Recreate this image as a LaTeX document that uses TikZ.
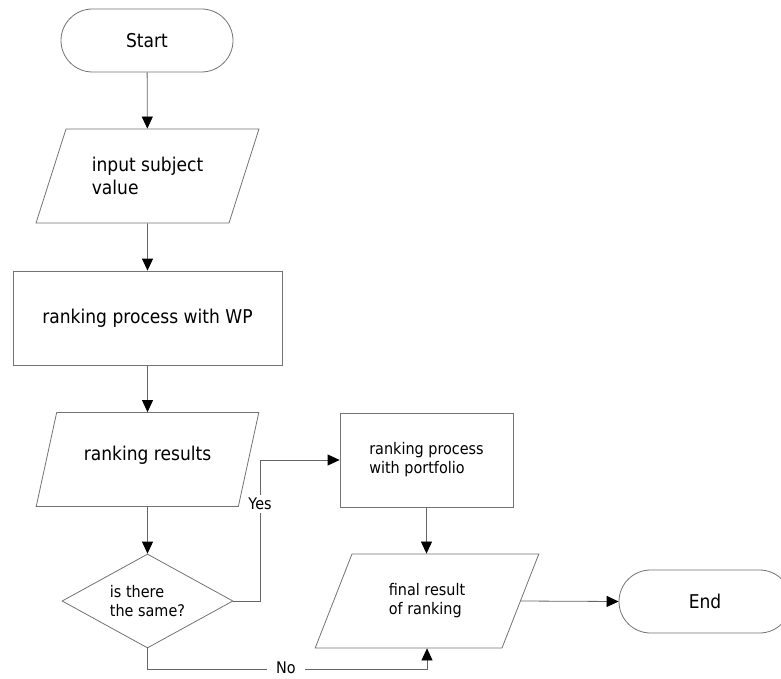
\documentclass[tikz,border=0pt]{standalone}
\usepackage{fontspec}
\setmainfont{DejaVu Sans}[FakeStretch=0.9]
\usetikzlibrary{shapes.geometric,shapes.misc,arrows.meta}
\newcommand\mybig{\fontsize{19}{23}\selectfont}
\newcommand\mysmall{\fontsize{16}{19}\selectfont}
\begin{document}
\begin{tikzpicture}[x=1pt,y=-1pt,
 shapeline/.style={draw=black!55, line width=0.8pt},
 terminal/.style={shapeline, rounded rectangle, minimum width=172pt, minimum height=63pt, inner sep=0pt, font=\mybig},
 io/.style={shapeline, trapezium, trapezium left angle=61.5, trapezium right angle=118.5, trapezium stretches=true, minimum width=223pt, minimum height=94pt, inner sep=0pt, align=left},
 procbox/.style={shapeline, rectangle, minimum height=94pt, inner sep=0pt, align=left},
 decision/.style={shapeline, diamond, aspect=1.82, minimum width=171pt, minimum height=94pt, inner sep=0pt, align=left, font=\mysmall},
 conn/.style={draw=black!60, line width=0.8pt, -{Triangle[length=12pt,width=11pt,color=black]}},
 lbl/.style={fill=white, font=\mysmall, inner sep=3pt}
]
\useasboundingbox (0,0) rectangle (781,679);
\clip (0,0) rectangle (781,679);
\fill[white] (0,0) rectangle (781,679);

\node[terminal] (start) at (147,40.5) {Start};
\node[io, font=\mybig] (input) at (147.5,176) {input subject\\value};
\node[procbox, minimum width=269pt, font=\mybig] (wp) at (147.5,318) {ranking process with WP};
\node[io, font=\mybig, text depth=12pt] (results) at (147.5,459.5) {ranking results};
\node[decision] (same) at (147.5,601) {is there\\the same?};
\node[procbox, minimum width=173pt, font=\mysmall] (port) at (426.5,460) {ranking process\\with portfolio};
\node[io, minimum width=224pt, font=\mysmall] (final) at (427,601) {final result\\of ranking};
\node[terminal] (end) at (705,601.5) {End};

\draw[conn] (start) -- (input);
\draw[conn] (input) -- (wp);
\draw[conn] (wp) -- (results);
\draw[conn] (results) -- (same);
\draw[conn] (same.east) -- ++(27,0) coordinate (ybend) |- (port.west);
\node[lbl] (yes) at (260,504) {Yes};
\draw[conn] (port.south) -- (port.south |- final.north);
\draw[conn] (same.south) -- ++(0,21) coordinate (nbend) -| (final.south);
\node[lbl, inner xsep=9pt, inner ysep=0pt, text depth=0pt] (no) at (286,668) {No};
\draw[conn] (final.east) -- (end.west);
\end{tikzpicture}
\end{document}
